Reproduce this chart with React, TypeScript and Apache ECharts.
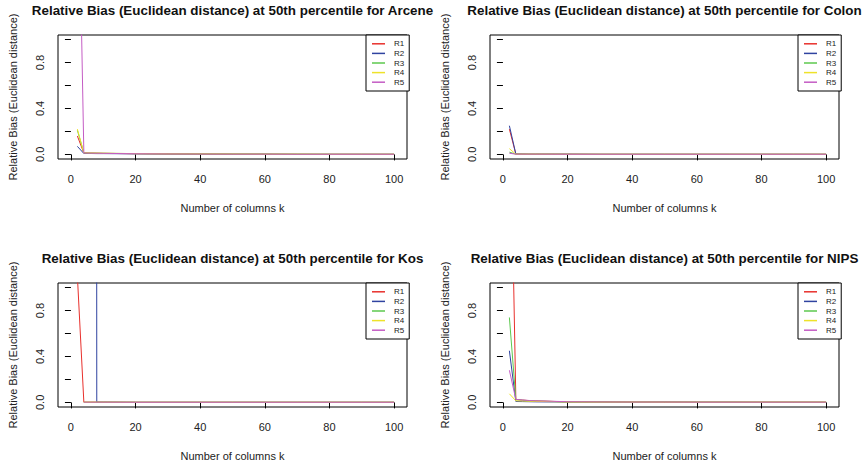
import React, { useEffect, useRef } from "react";
import * as echarts from "echarts";

const kValues = [2, 4, 6, 8, 10, 20, 30, 40, 50, 60, 70, 80, 90, 100];
const seriesNames = ["R1", "R2", "R3", "R4", "R5"];
const seriesColors = ["#e8302c", "#2f43a0", "#5cc84e", "#eee22a", "#c45cc4"];
const datasetNames = ["Arcene", "Colon", "Kos", "NIPS"];

const arceneR1 = [0.16, 0.012, 0.011, 0.01, 0.009, 0.006, 0.004, 0.003, 0.002, 0.002, 0.001, 0.001, 0.001, 0.001];
const arceneR2 = [0.07, 0.008, 0.008, 0.007, 0.007, 0.005, 0.004, 0.003, 0.002, 0.002, 0.001, 0.001, 0.001, 0.001];
const arceneR3 = [0.21, 0.014, 0.012, 0.011, 0.01, 0.007, 0.005, 0.004, 0.003, 0.002, 0.002, 0.001, 0.001, 0.001];
const arceneR4 = [0.22, 0.013, 0.012, 0.011, 0.01, 0.007, 0.005, 0.004, 0.003, 0.002, 0.002, 0.001, 0.001, 0.001];
const arceneR5 = [3.0, 0.012, 0.011, 0.01, 0.009, 0.006, 0.004, 0.003, 0.002, 0.002, 0.001, 0.001, 0.001, 0.001];

const colonR1 = [0.22, 0.003, 0.003, 0.002, 0.002, 0.002, 0.001, 0.001, 0.001, 0.001, 0.001, 0.001, 0.001, 0.001];
const colonR2 = [0.25, 0.003, 0.003, 0.002, 0.002, 0.002, 0.001, 0.001, 0.001, 0.001, 0.001, 0.001, 0.001, 0.001];
const colonR3 = [0.02, 0.002, 0.002, 0.002, 0.002, 0.001, 0.001, 0.001, 0.001, 0.001, 0.001, 0.001, 0.001, 0.001];
const colonR4 = [0.05, 0.002, 0.002, 0.002, 0.002, 0.001, 0.001, 0.001, 0.001, 0.001, 0.001, 0.001, 0.001, 0.001];
const colonR5 = [0.01, 0.002, 0.002, 0.002, 0.002, 0.001, 0.001, 0.001, 0.001, 0.001, 0.001, 0.001, 0.001, 0.001];

const kosR1 = [1.1, 0.002, 0.002, 0.002, 0.002, 0.001, 0.001, 0.001, 0.001, 0.001, 0.001, 0.001, 0.001, 0.001];
const kosR2 = [100, 100, 100, 0.002, 0.002, 0.001, 0.001, 0.001, 0.001, 0.001, 0.001, 0.001, 0.001, 0.001];
const kosR3 = [null, 0.002, 0.002, 0.002, 0.002, 0.001, 0.001, 0.001, 0.001, 0.001, 0.001, 0.001, 0.001, 0.001];
const kosR4 = [null, 0.002, 0.002, 0.002, 0.002, 0.001, 0.001, 0.001, 0.001, 0.001, 0.001, 0.001, 0.001, 0.001];
const kosR5 = [null, 0.002, 0.002, 0.002, 0.002, 0.001, 0.001, 0.001, 0.001, 0.001, 0.001, 0.001, 0.001, 0.001];

const nipsR1 = [3.0, 0.026, 0.02, 0.016, 0.013, 0.005, 0.004, 0.003, 0.003, 0.002, 0.002, 0.002, 0.002, 0.002];
const nipsR2 = [0.45, 0.008, 0.007, 0.006, 0.005, 0.003, 0.003, 0.002, 0.002, 0.002, 0.002, 0.001, 0.001, 0.001];
const nipsR3 = [0.74, 0.024, 0.019, 0.015, 0.012, 0.005, 0.004, 0.003, 0.003, 0.002, 0.002, 0.002, 0.002, 0.002];
const nipsR4 = [0.075, 0.014, 0.012, 0.01, 0.009, 0.004, 0.003, 0.003, 0.002, 0.002, 0.002, 0.002, 0.002, 0.002];
const nipsR5 = [0.28, 0.026, 0.021, 0.017, 0.014, 0.006, 0.004, 0.003, 0.003, 0.002, 0.002, 0.002, 0.002, 0.002];

const panelValues = [
  [arceneR1, arceneR2, arceneR3, arceneR4, arceneR5],
  [colonR1, colonR2, colonR3, colonR4, colonR5],
  [kosR1, kosR2, kosR3, kosR4, kosR5],
  [nipsR1, nipsR2, nipsR3, nipsR4, nipsR5],
];

const xTicks = [0, 20, 40, 60, 80, 100];
const yTicks = [0, 0.2, 0.4, 0.6, 0.8, 1.0];
const yLabels = [0, 0.4, 0.8];

const FONT = "Liberation Sans, Arial, Helvetica, sans-serif";

// plot boxes: [left, top]
const boxes = [
  [58, 35],
  [490, 35],
  [58, 283],
  [490, 283],
];
const BOX_W = 349;
const BOX_H = 124;

export default function App() {
  const ref = useRef<HTMLDivElement>(null);
  useEffect(() => {
    if (!ref.current) return;
    const chart = echarts.init(ref.current, null, { renderer: "svg" });
    const grids: any[] = [];
    const xAxes: any[] = [];
    const yAxes: any[] = [];
    const series: any[] = [];
    const legends: any[] = [];
    const graphics: any[] = [];
    boxes.forEach(([l, t], p) => {
      grids.push({
        left: l,
        top: t,
        width: BOX_W,
        height: BOX_H,
        show: true,
        borderColor: "#000",
        borderWidth: 1,
        backgroundColor: "transparent",
        containLabel: false,
        outerBoundsMode: "none",
      });
      xAxes.push({
        type: "value",
        gridIndex: p,
        min: -4,
        max: 104,
        splitLine: { show: false },
        axisLine: { show: false },
        axisTick: { show: true, length: 6, customValues: xTicks, lineStyle: { color: "#000" } },
        axisLabel: {
          customValues: xTicks,
          fontSize: 11,
          fontFamily: FONT,
          color: "#222",
          margin: 14,
          formatter: (v: number) => String(v),
        },
        name: "Number of columns k",
        nameLocation: "middle",
        nameGap: 43,
        nameTextStyle: { fontSize: 11, fontFamily: FONT, color: "#222" },
      });
      yAxes.push({
        type: "value",
        gridIndex: p,
        min: -0.04,
        max: 1.04,
        splitLine: { show: false },
        axisLine: { show: false },
        axisTick: { show: true, length: 6, customValues: yTicks, lineStyle: { color: "#000" } },
        axisLabel: {
          customValues: yLabels,
          rotate: 90,
          fontSize: 11,
          fontFamily: FONT,
          color: "#222",
          margin: 13,
          formatter: (v: number) => v.toFixed(1),
        },
        name: "Relative Bias (Euclidean distance)",
        nameLocation: "middle",
        nameRotate: 90,
        nameGap: 40,
        nameTextStyle: { fontSize: 11, fontFamily: FONT, color: "#222" },
      });
      panelValues[p].forEach((vals, r) => {
        series.push({
          type: "line",
          name: seriesNames[r],
          xAxisIndex: p,
          yAxisIndex: p,
          data: kValues.map((k, i) => [k, vals[i]]),
          symbol: "none",
          showSymbol: false,
          connectNulls: false,
          clip: true,
          lineStyle: { width: 1, color: seriesColors[r] },
          itemStyle: { color: seriesColors[r] },
          emphasis: { disabled: true },
        });
      });
      legends.push({
        data: seriesNames,
        orient: "vertical",
        left: l + BOX_W - 41,
        top: t,
        icon: "rect",
        itemWidth: 13,
        itemHeight: 1.5,
        itemGap: 0,
        padding: [4, 5, 4, 6],
        borderColor: "#000",
        borderWidth: 1,
        backgroundColor: "#fff",
        textStyle: { fontSize: 8, lineHeight: 9.6, fontFamily: FONT, color: "#222", padding: [0, 0, 0, 4] },
        selectedMode: false,
      });
      graphics.push({
        type: "text",
        x: l + BOX_W / 2,
        y: t - 25,
        style: {
          text: `Relative Bias (Euclidean distance) at 50th percentile for ${datasetNames[p]}`,
          font: `bold 13.4px ${FONT}`,
          fill: "#111",
          textAlign: "center",
          textVerticalAlign: "middle",
        },
      });
    });
    chart.setOption({
      animation: false,
      backgroundColor: "#fff",
      grid: grids,
      xAxis: xAxes,
      yAxis: yAxes,
      series,
      legend: legends,
      graphic: graphics,
    });
    return () => chart.dispose();
  }, []);
  return (
    <div
      ref={ref}
      style={{ position: "absolute", left: 0, top: 0, width: 865, height: 467 }}
    />
  );
}
